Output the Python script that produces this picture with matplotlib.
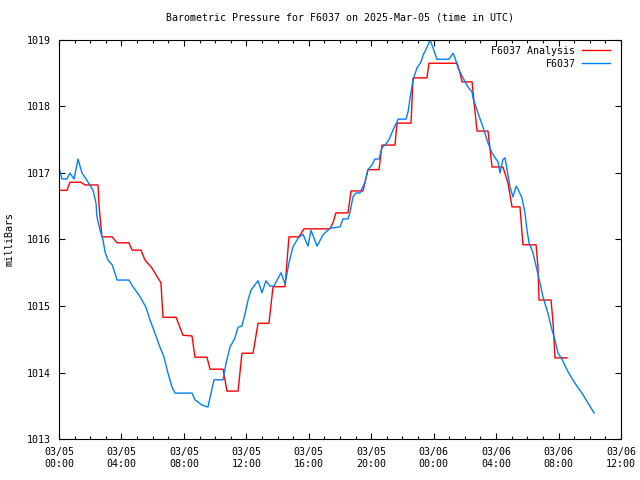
import matplotlib
matplotlib.use("Agg")
import matplotlib.pyplot as plt
import matplotlib.dates as mdates
import pandas as pd

plt.rcParams['font.family'] = ['DejaVu Sans Mono']

start = pd.Timestamp("2025-03-05 00:00")

# observed pressure (hours after 03/05 00:00 UTC, milliBars)
obs_hours = [0.00, 0.19, 0.51, 0.70, 0.96, 1.22, 1.47, 1.79, 2.18, 2.37, 2.43, 2.63, 2.82,
             2.95, 3.14, 3.40, 3.52, 3.72, 4.48, 4.74, 5.19, 5.57, 5.83, 6.15, 6.47, 6.73,
             6.98, 7.24, 7.43, 8.52, 8.71, 9.16, 9.54, 9.74, 9.93, 10.51, 10.70, 10.95,
             11.27, 11.47, 11.72, 11.92, 12.11, 12.30, 12.56, 12.75, 13.00, 13.26, 13.51,
             13.77, 14.22, 14.48, 14.73, 14.99, 15.31, 15.63, 15.95, 16.14, 16.53, 16.91,
             17.36, 18.00, 18.19, 18.51, 18.64, 18.83, 19.03, 19.28, 19.60, 19.79, 20.05,
             20.24, 20.50, 20.69, 20.88, 21.14, 21.40, 21.65, 21.72, 22.23, 22.36, 22.49,
             22.68, 22.93, 23.19, 23.32, 23.57, 23.77, 23.96, 24.21, 24.98, 25.24, 25.37,
             25.56, 25.88, 26.20, 26.46, 26.52, 26.84, 27.16, 27.48, 27.74, 27.93, 28.12,
             28.25, 28.44, 28.57, 28.70, 28.89, 29.08, 29.28, 29.40, 29.66, 29.85, 29.98,
             30.11, 30.36, 30.62, 30.81, 31.00, 31.32, 31.58, 31.77, 31.97, 32.22, 32.61,
             33.05, 33.50, 33.89, 34.28]
obs_mb = [1017.08, 1016.91, 1016.91, 1017.00, 1016.91, 1017.21, 1017.00, 1016.89, 1016.74,
          1016.55, 1016.34, 1016.14, 1015.99, 1015.81, 1015.69, 1015.62, 1015.54, 1015.39,
          1015.39, 1015.29, 1015.14, 1014.98, 1014.79, 1014.59, 1014.38, 1014.23, 1013.99,
          1013.78, 1013.69, 1013.69, 1013.59, 1013.51, 1013.48, 1013.69, 1013.89, 1013.89,
          1014.14, 1014.38, 1014.52, 1014.68, 1014.70, 1014.89, 1015.09, 1015.24, 1015.32,
          1015.38, 1015.20, 1015.38, 1015.30, 1015.30, 1015.50, 1015.33, 1015.65, 1015.89,
          1016.02, 1016.08, 1015.90, 1016.14, 1015.90, 1016.07, 1016.17, 1016.19, 1016.31,
          1016.31, 1016.41, 1016.64, 1016.70, 1016.70, 1016.86, 1017.05, 1017.12, 1017.21,
          1017.21, 1017.38, 1017.42, 1017.50, 1017.65, 1017.77, 1017.81, 1017.81, 1017.92,
          1018.13, 1018.40, 1018.58, 1018.67, 1018.77, 1018.89, 1019.00, 1018.88, 1018.71,
          1018.71, 1018.80, 1018.73, 1018.58, 1018.43, 1018.29, 1018.22, 1018.13, 1017.90,
          1017.69, 1017.45, 1017.30, 1017.23, 1017.17, 1017.00, 1017.20, 1017.23, 1017.05,
          1016.79, 1016.64, 1016.80, 1016.76, 1016.62, 1016.40, 1016.14, 1015.95, 1015.80,
          1015.54, 1015.35, 1015.14, 1014.89, 1014.64, 1014.49, 1014.29, 1014.20, 1014.01,
          1013.84, 1013.69, 1013.54, 1013.39]

# analysis pressure
ana_hours = [0.00, 0.51, 0.70, 1.41, 1.67, 2.50, 2.56, 2.63, 2.75, 3.40, 3.72, 4.48, 4.68,
             5.25, 5.51, 5.96, 6.34, 6.53, 6.66, 7.50, 7.94, 8.52, 8.71, 9.48, 9.67, 10.51,
             10.76, 11.47, 11.72, 12.43, 12.75, 13.45, 13.71, 14.48, 14.73, 15.37, 15.69,
             17.36, 17.55, 17.74, 18.51, 18.71, 19.47, 19.79, 20.50, 20.69, 21.52, 21.65,
             22.55, 22.68, 23.57, 23.70, 25.50, 25.69, 25.82, 26.46, 26.58, 26.78, 27.48,
             27.74, 28.44, 28.76, 29.02, 29.53, 29.72, 30.56, 30.68, 30.75, 31.52, 31.65,
             31.77, 32.54]
ana_mb = [1016.74, 1016.74, 1016.86, 1016.86, 1016.82, 1016.82, 1016.52, 1016.34, 1016.04,
          1016.04, 1015.95, 1015.95, 1015.84, 1015.84, 1015.69, 1015.57, 1015.42, 1015.35,
          1014.83, 1014.83, 1014.56, 1014.55, 1014.23, 1014.23, 1014.05, 1014.05, 1013.72,
          1013.72, 1014.29, 1014.29, 1014.74, 1014.74, 1015.29, 1015.29, 1016.04, 1016.04,
          1016.16, 1016.16, 1016.25, 1016.40, 1016.40, 1016.73, 1016.73, 1017.05, 1017.05,
          1017.42, 1017.42, 1017.75, 1017.75, 1018.43, 1018.43, 1018.65, 1018.65, 1018.50,
          1018.37, 1018.37, 1018.07, 1017.63, 1017.63, 1017.09, 1017.09, 1016.85, 1016.49,
          1016.49, 1015.92, 1015.92, 1015.59, 1015.09, 1015.09, 1014.74, 1014.22, 1014.22]

yticks = [1013, 1014, 1015, 1016, 1017, 1018, 1019]


def to_time(hours):
    return start + pd.to_timedelta(hours, unit="h")


fig = plt.figure(figsize=(6.4, 4.8), dpi=100)
ax = fig.add_axes([0.0922, 0.0854, 0.8781, 0.8313])

ax.plot(to_time(ana_hours), ana_mb, color="#ff0000", lw=1.0, label="F6037 Analysis")
ax.plot(to_time(obs_hours), obs_mb, color="#0080ff", lw=1.0, label="F6037")

ax.set_xlim(start, start + pd.Timedelta(hours=36))
ax.set_ylim(1013, 1019)
ax.set_yticks(yticks)
ax.xaxis.set_major_locator(mdates.HourLocator(byhour=range(0, 24, 4)))
ax.xaxis.set_minor_locator(mdates.HourLocator())
ax.xaxis.set_major_formatter(mdates.DateFormatter("%m/%d\n%H:%M"))

ax.tick_params(which="both", direction="in", top=True, right=True, labelsize=7.2,
               width=0.8, color="black")
ax.tick_params(which="major", length=4, pad=6)
ax.tick_params(which="minor", length=2)
for s in ax.spines.values():
    s.set_linewidth(0.8)

ax.set_title("Barometric Pressure for F6037 on 2025-Mar-05 (time in UTC)", fontsize=7.2, pad=14)
ax.set_ylabel("milliBars", fontsize=7.2, labelpad=9)

ax.legend(loc="upper right", bbox_to_anchor=(0.992, 1.0), frameon=False, markerfirst=False,
          fontsize=7.2, handlelength=2.8, labelspacing=0.3, borderaxespad=0.2,
          handletextpad=0.7)

fig.savefig("out.png", dpi=100)
